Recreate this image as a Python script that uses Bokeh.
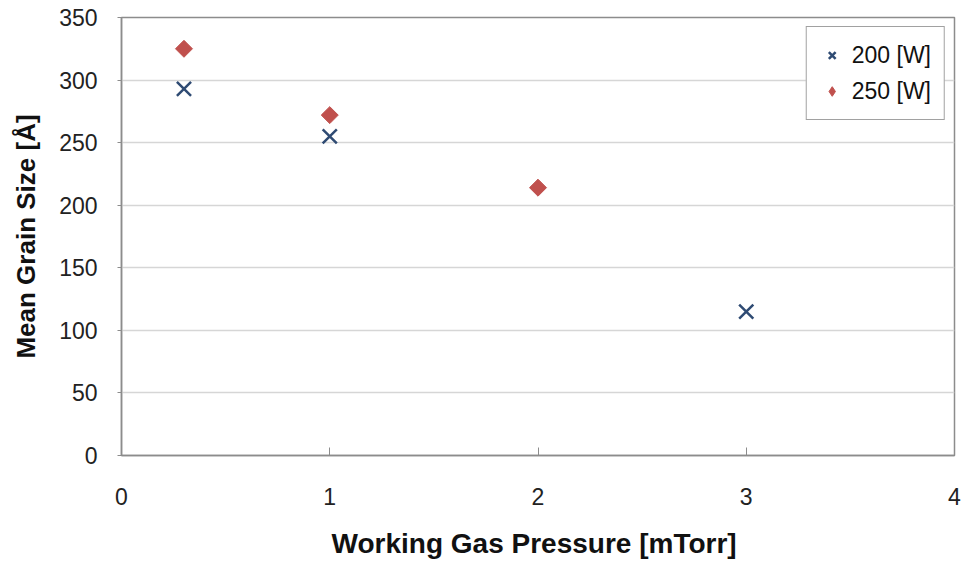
import math
from bokeh.plotting import figure
from bokeh.models import Range1d, FixedTicker, Legend, LegendItem
from bokeh.embed import file_html
from bokeh.resources import INLINE

# data
pressure_200 = [0.3, 1.0, 3.0]
grain_200 = [293, 255, 115]
pressure_250 = [0.3, 1.0, 2.0]
grain_250 = [325, 272, 214]
series_labels = ["200 [W]", "250 [W]"]
x_ticks = [0, 1, 2, 3, 4]
y_ticks = [0, 50, 100, 150, 200, 250, 300, 350]

FONT = "Liberation Sans"

p = figure(width=962, height=560, output_backend="svg", toolbar_location=None,
           x_range=Range1d(0, 4), y_range=Range1d(0, 350),
           min_border_left=121, min_border_right=8, min_border_top=17, min_border_bottom=105)
p.frame_width = 833
p.frame_height = 438

p.outline_line_color = "#8c8c8c"
p.outline_line_width = 1.5
p.background_fill_color = "white"
p.border_fill_color = "white"

p.xgrid.grid_line_color = None
p.ygrid.grid_line_color = "#d6d6d6"
p.ygrid.grid_line_width = 1.5

p.xaxis.ticker = FixedTicker(ticks=x_ticks)
p.yaxis.ticker = FixedTicker(ticks=y_ticks)
for ax in (p.xaxis[0], p.yaxis[0]):
    ax.axis_line_color = "#8c8c8c"
    ax.axis_line_width = 1.5
    ax.major_tick_line_color = "#8c8c8c"
    ax.minor_tick_line_color = None
    ax.major_label_text_font = FONT
    ax.major_label_text_font_size = "23px"
    ax.major_label_text_color = "#222222"
    ax.axis_label_text_font = FONT
    ax.axis_label_text_font_style = "bold"
    ax.axis_label_text_color = "#111111"

p.xaxis.major_tick_in = 8
p.xaxis.major_tick_out = 0
p.yaxis.major_tick_in = 0
p.yaxis.major_tick_out = 4
p.xaxis.major_label_standoff = 32
p.yaxis.major_label_standoff = 20
p.xaxis.axis_label = "Working Gas Pressure  [mTorr]"
p.yaxis.axis_label = "Mean Grain Size [Å]"
p.xaxis.axis_label_text_font_size = "28px"
p.yaxis.axis_label_text_font_size = "26px"
p.xaxis.axis_label_standoff = 20
p.yaxis.axis_label_standoff = 15

r1 = p.scatter(pressure_200, grain_200, marker="x", size=20, line_color="#2F4B73", line_width=2.5)
# diamond glyph used for the legend, hidden under the rotated squares
r2_leg = p.scatter(pressure_250, grain_250, marker="diamond", size=14,
                   fill_color="#C0504D", line_color="#C0504D")
r2 = p.scatter(pressure_250, grain_250, marker="square", size=12, angle=math.pi / 4,
               fill_color="#C0504D", line_color="#C0504D")

legend = Legend(items=[LegendItem(label=series_labels[0], renderers=[r1]),
                       LegendItem(label=series_labels[1], renderers=[r2_leg])],
                location="top_right")
legend.margin = 9
legend.padding = 13
legend.spacing = 6
legend.glyph_width = 24
legend.glyph_height = 24
legend.label_height = 30
legend.label_standoff = 8
legend.label_text_font = FONT
legend.label_text_font_size = "23px"
legend.label_text_color = "#111111"
legend.border_line_color = "#444444"
legend.border_line_width = 1.5
legend.background_fill_color = "white"
legend.background_fill_alpha = 1.0
p.add_layout(legend)

open("out.html", "w").write(file_html(p, INLINE))
